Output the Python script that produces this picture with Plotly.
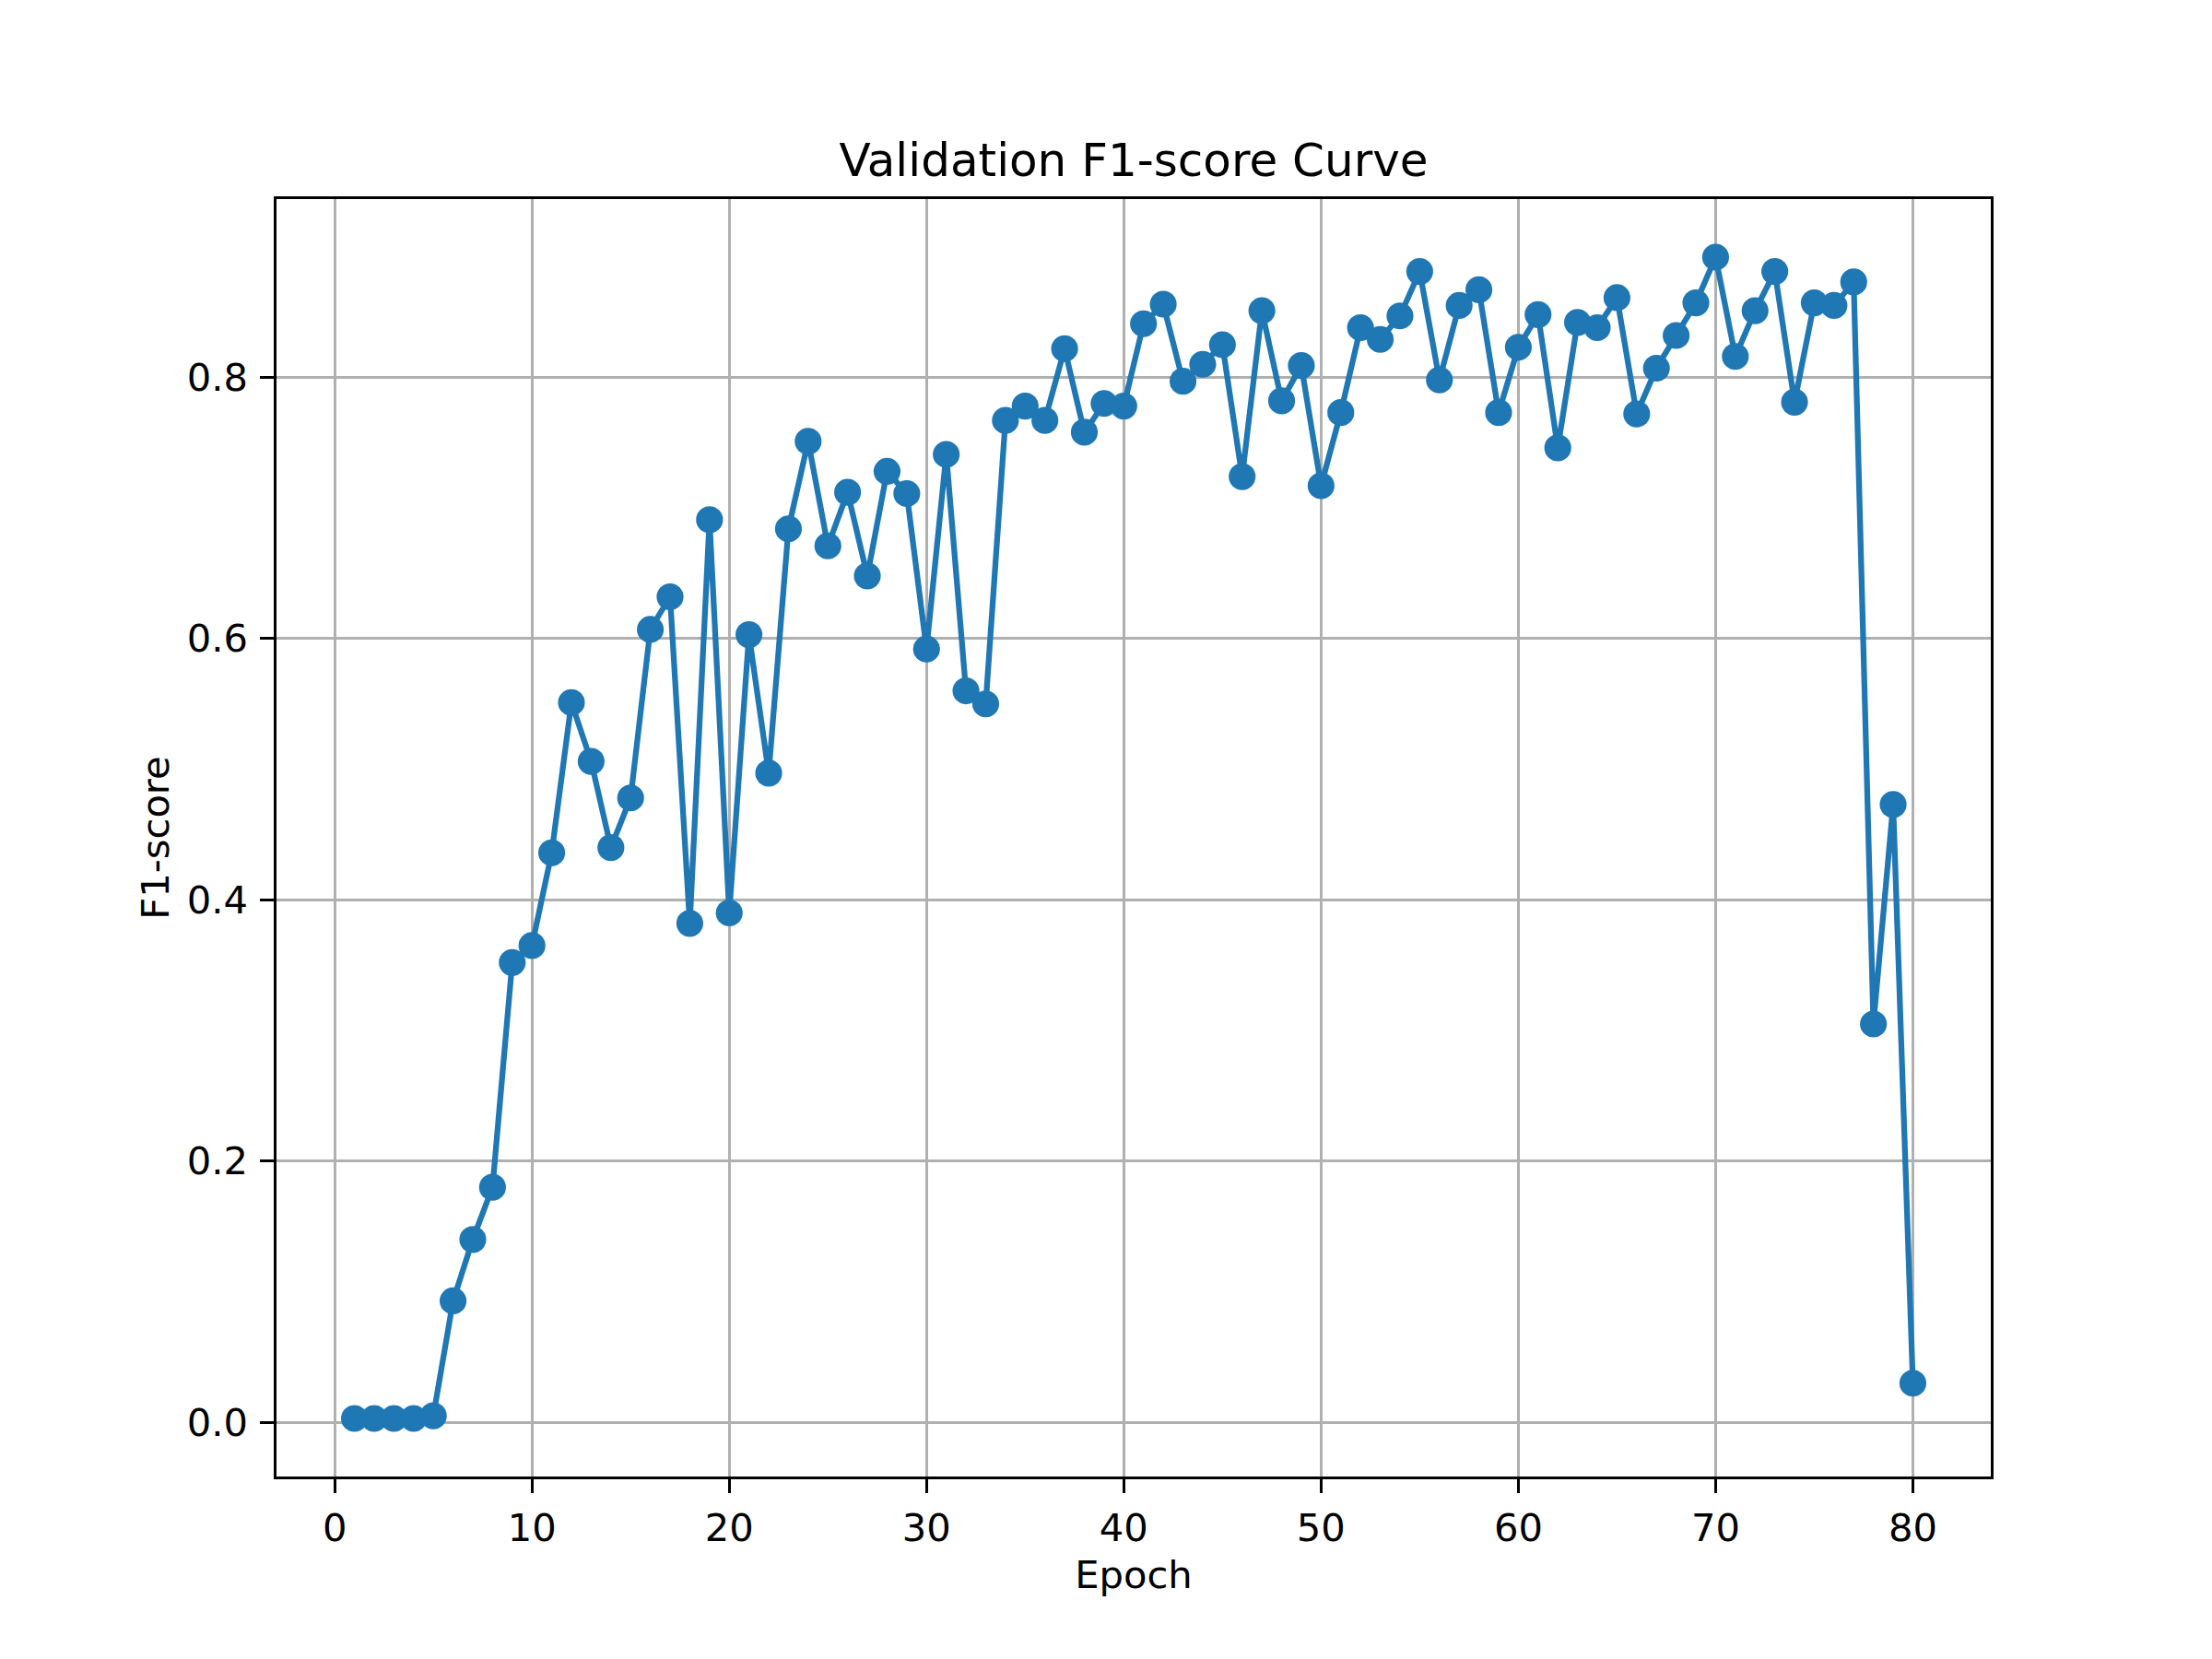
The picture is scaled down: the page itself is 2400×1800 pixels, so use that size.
import plotly.graph_objects as go

# validation F1 per epoch
epochs = list(range(1, 81))
f1_scores = [
    0.003, 0.003, 0.003, 0.003, 0.005, 0.093, 0.140, 0.180, 0.352, 0.365,
    0.436, 0.551, 0.506, 0.440, 0.478, 0.607, 0.632, 0.382, 0.691, 0.390,
    0.603, 0.497, 0.684, 0.751, 0.671, 0.712, 0.648, 0.728, 0.711, 0.592,
    0.741, 0.560, 0.550, 0.767, 0.778, 0.767, 0.822, 0.758, 0.780, 0.778,
    0.841, 0.856, 0.797, 0.810, 0.825, 0.724, 0.851, 0.782, 0.809, 0.717,
    0.773, 0.838, 0.829, 0.847, 0.881, 0.798, 0.855, 0.867, 0.773, 0.823,
    0.848, 0.746, 0.842, 0.838, 0.861, 0.772, 0.807, 0.832, 0.857, 0.892,
    0.816, 0.851, 0.881, 0.781, 0.857, 0.855, 0.873, 0.305, 0.473, 0.030,
]
x_ticks = [0, 10, 20, 30, 40, 50, 60, 70, 80]
y_ticks = [0.0, 0.2, 0.4, 0.6, 0.8]
y_tick_labels = ["0.0", "0.2", "0.4", "0.6", "0.8"]

FONT = "DejaVu Sans"
BLUE = "#1f77b4"
PT = 300 / 72  # reference looks like an 8x6 in figure at 300 dpi


def main():
    fig = go.Figure()
    fig.add_trace(go.Scatter(
        x=epochs,
        y=f1_scores,
        mode="lines+markers",
        line=dict(color=BLUE, width=1.5 * PT),
        marker=dict(color=BLUE, size=7 * PT),
        showlegend=False,
    ))

    # matplotlib-like axes: 5% margins, box, grey grid
    x_pad = (max(epochs) - min(epochs)) * 0.05
    y_pad = (max(f1_scores) - min(f1_scores)) * 0.05
    axis_common = dict(
        showline=True, linecolor="black", linewidth=0.8 * PT, mirror=True,
        showgrid=True, gridcolor="#b0b0b0", gridwidth=0.8 * PT,
        zeroline=False,
        ticks="outside", ticklen=3.5 * PT, tickwidth=0.8 * PT,
        tickcolor="black",
        tickfont=dict(family=FONT, size=10 * PT, color="black"),
    )

    # page body has an 8px margin, so shift everything up/left by 8
    fig.update_layout(
        width=2392, height=1792,
        paper_bgcolor="white", plot_bgcolor="white",
        margin=dict(l=292, r=240, t=208, b=198),
        font=dict(family=FONT, size=10 * PT, color="black"),
        title=dict(
            text="Validation F1-score Curve",
            x=0.5, xref="paper", xanchor="center",
            y=1, yref="paper", yanchor="bottom",
            pad=dict(b=25),
            font=dict(family=FONT, size=12 * PT, color="black"),
        ),
        xaxis=dict(
            axis_common,
            range=[min(epochs) - x_pad, max(epochs) + x_pad],
            tickvals=x_ticks,
            ticklabelstandoff=2,
            title=dict(text="Epoch", standoff=14,
                       font=dict(family=FONT, size=10 * PT)),
        ),
        yaxis=dict(
            axis_common,
            range=[min(f1_scores) - y_pad, max(f1_scores) + y_pad],
            tickvals=y_ticks,
            ticktext=y_tick_labels,
            ticklabelstandoff=5,
            title=dict(text="F1-score", standoff=7,
                       font=dict(family=FONT, size=10 * PT)),
        ),
    )

    fig.write_html("out.html")


if __name__ == "__main__":
    main()
